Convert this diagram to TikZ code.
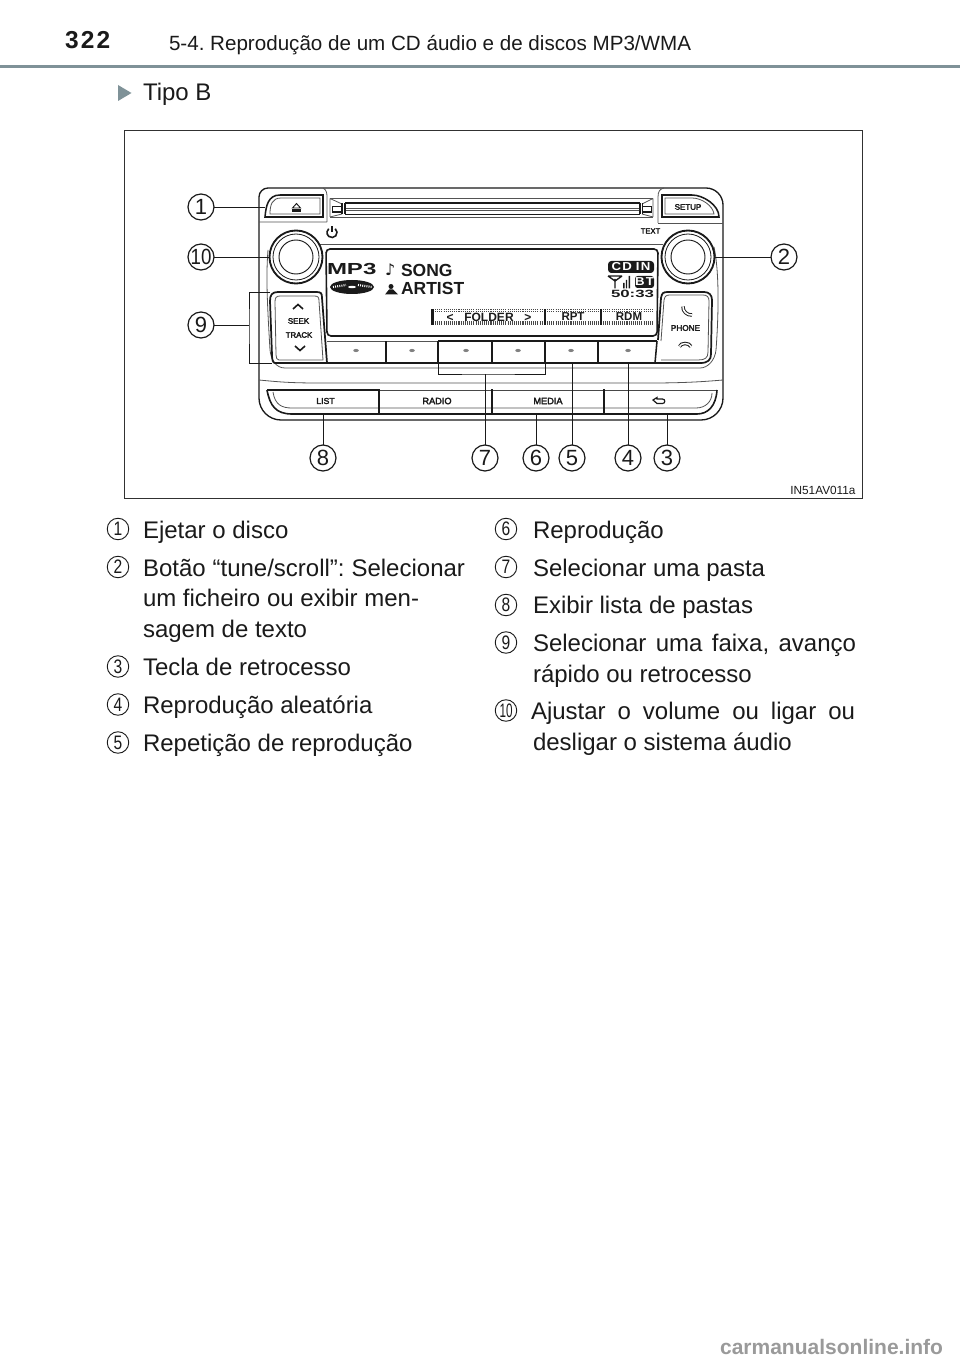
\documentclass[tikz,border=0pt]{standalone}
\usepackage{fontspec}
\setmainfont{Liberation Sans}
\newfontfamily\symfont{DejaVu Sans}
\newfontfamily\heavy[FakeBold=3]{Liberation Sans}
\frenchspacing
\newlength{\pxu}\setlength{\pxu}{0.75pt}
\definecolor{rulegray}{HTML}{7F9298}
\definecolor{wmgray}{HTML}{9A9A9A}
\definecolor{ink}{HTML}{1A1A1A}
\newcommand{\pxfont}[1]{\fontsize{#1\pxu}{#1\pxu}\selectfont}
\newcommand{\nar}[2]{\scalebox{#1}[1]{#2}}
\usetikzlibrary{shapes.geometric}
\tikzset{
  x=0.75pt,y=-0.75pt,
  every node/.style={inner sep=0,outer sep=0,text=ink},
  body/.style={anchor=base west,font=\pxfont{24}},
  callout/.style={circle,draw=ink,line width=0.9pt,minimum size=26\pxu,fill=white,font=\pxfont{22}},
  bullet/.style={circle,draw=ink,line width=0.7pt,minimum size=21.5\pxu,font=\pxfont{19.5}},
  leader/.style={draw=ink,line width=0.7pt},
  thickline/.style={draw=ink,line width=1.15pt},
  thinline/.style={draw=ink!75,line width=0.6pt},
  panelbtn/.style={font=\heavy\pxfont{#1}},
  panelbtn/.default=9,
  dispbig/.style={font=\bfseries\pxfont{17.5},anchor=base west},
  softtxt/.style={font=\bfseries\pxfont{11.5}},
  softdot/.style={ellipse,fill=ink!55,minimum width=5.5\pxu,minimum height=3.2\pxu},
  dotted rule/.style={draw=ink!80,line width=0.8pt,dash pattern=on 0.8pt off 0.8pt},
}
\begin{document}
\begin{tikzpicture}
\useasboundingbox[fill=white] (0,0) rectangle (960,1362);
% header
\node[anchor=base west,font=\bfseries\pxfont{24.5},text=ink] (pageno) at (65,49) {3\kern1.6pt 2\kern1.6pt 2};
\node[anchor=base west,font=\pxfont{20.6}] (runhead) at (169,51) {5-4. Reprodução de um CD áudio e de discos MP3/WMA};
\fill[rulegray] (0,65) rectangle (960,68.5);
\fill[rulegray] (118,85) -- (131.5,93) -- (118,101) -- cycle;
\node[anchor=base west,font=\pxfont{24}] (tipo) at (143,101) {Tipo B};
% frame
\draw[ink!90,line width=0.65pt] (124,130) rectangle (862,498);
\node[anchor=base east,font=\pxfont{11.8}] (code) at (855.5,494) {IN51AV011a};

% device outer
\draw[ink,line width=1pt] (259,211) -- (259,197) arc[start angle=180,end angle=270,radius=9] -- (323,188) -- (662,188) -- (706,188) arc[start angle=270,end angle=360,radius=17] -- (723,398) arc[start angle=0,end angle=90,radius=22] -- (281,420) arc[start angle=90,end angle=180,radius=22] -- cycle;
% eject surround
\draw[thinline] (323,188) .. controls (327,190) and (327,194) .. (327,198) -- (327,222) (259,222) -- (327,222);
\draw[thickline] (265,217) .. controls (266,206) and (268,195) .. (280,195) -- (323,195) -- (323,217) -- cycle;
\draw[thinline] (270,214) .. controls (270,205) and (272,198) .. (281,198) -- (320,198) -- (320,214) -- cycle;
\draw[ink,line width=0.7pt] (292.5,208) -- (296.5,203.5) -- (300.5,208) -- cycle;
\fill[ink] (292,209.5) rectangle (301,212);
% CD slot
\draw[thinline] (330,198.5) -- (653,198.5) (330,217) -- (653,217);
\draw[ink,line width=0.9pt] (345,203) -- (640,203) (345,214.5) -- (640,214.5);
\draw[thinline] (345,208) -- (640,208) (345,210.5) -- (640,210.5);
\draw[thinline] (330,198.5) -- (330,217) (653,198.5) -- (653,217) (330,198.5) -- (342,204) (330,217) -- (342,214) (653,198.5) -- (642,204) (653,217) -- (642,214);
\draw[ink,line width=0.9pt] (342,203.5) -- (342,214.5) (345,203) -- (345,214.5) (640,203) -- (640,214.5) (642.5,203.5) -- (642.5,214.5);
\draw[ink,line width=0.8pt] (332.5,206.5) rectangle (342,212);
\draw[ink,line width=0.8pt] (642.5,206.5) rectangle (651.5,212);
% setup surround
\draw[thinline] (658,223) -- (658,197) .. controls (658,191) and (660,189) .. (664,188);
\draw[thinline] (658,223) -- (723,223);
\draw[thickline] (662,195) -- (692,195) .. controls (703,195) and (719,205) .. (719,217) -- (662,217) -- cycle;
\draw[thinline] (665,198) -- (692,198) .. controls (702,198) and (713,206) .. (714,214) -- (665,214) -- cycle;
\node[panelbtn=8] (setup) at (688,207) {SETUP};
% power + TEXT
\draw[ink,line width=1.2pt] (335.2,228.7) arc[start angle=-50,end angle=230,radius=5];
\draw[ink,line width=1.2pt] (332,226.5) -- (332,232);
\node[panelbtn=7.6] (text) at (650.5,231) {TEXT};
% horizontal band above screen
\draw[thinline] (320,244) -- (663,244);
% knobs
\coordinate (kl) at (296,257);
\coordinate (kr) at (688,257);
\draw[thinline] (268,250) .. controls (266,275) and (267,300) .. (270,350) .. controls (271,360) and (276,368) .. (285,368) -- (700,368) .. controls (708,368) and (715,360) .. (716,350) .. controls (719,310) and (719,270) .. (714,247);
\foreach \k in {kl,kr}{
  \draw[ink,line width=1.4pt,fill=white] (\k) circle[radius=26.5];
  \draw[ink,line width=0.6pt] (\k) circle[radius=23];
  \draw[ink,line width=0.7pt] (\k) circle[radius=17];
}
% screen
\draw[ink,line width=1.2pt,rounded corners=3pt] (326,249) -- (658,249) -- (657,336) -- (327,336) -- cycle;
% screen content
\node[anchor=base west,font=\bfseries\pxfont{16},xscale=1.5] (mp3) at (327,275) {MP3};
\fill[ink] (352,287) ellipse[x radius=22,y radius=7];
\fill[white] (352,287) ellipse[x radius=4,y radius=1.2];
\draw[white,line width=1.6pt,dash pattern=on 0.7pt off 0.9pt] (333,287) -- (346,285);
\draw[white,line width=1.6pt,dash pattern=on 0.7pt off 0.9pt] (358,285) -- (372,287);
\node[anchor=base west,font=\symfont\pxfont{16}] (note) at (385,276) {♪};
\node[dispbig] (song) at (401,276.5) {SONG};
\fill[ink] (385,294.5) -- (389,289.5) -- (393,289.5) -- (398,294.5) -- cycle;
\fill[ink] (391,286.5) circle[radius=2.5];
\node[dispbig] (artist) at (401,294.5) {ARTIST};
% softkeys
\fill[ink] (431,309) rectangle (433.5,325);
\fill[ink] (544,309) rectangle (546,325);
\fill[ink] (600,309) rectangle (602,325);
\draw[dotted rule] (435,309.5) -- (543,309.5) (435,324) -- (543,324) (547,309.5) -- (599,309.5) (547,324) -- (599,324) (603,309.5) -- (654,309.5) (603,324) -- (654,324);
\draw[dotted rule] (435,311.5) -- (543,311.5) (435,322) -- (543,322) (547,311.5) -- (599,311.5) (547,322) -- (599,322) (603,311.5) -- (654,311.5) (603,322) -- (654,322);
\node[softtxt] (fld) at (489,317) {\fontsize{12\pxu}{12\pxu}\selectfont <\kern8pt FOLDER\kern8pt >};
\node[softtxt] (rpt) at (573,317) {RPT};
\node[softtxt] (rdm) at (629,317) {RDM};
% status
\fill[ink,rounded corners=2.5pt] (608,261) rectangle (654,273);
\node[font=\bfseries\pxfont{11.5},text=white,xscale=1.15] (cdin) at (631,267) {C\kern0.8pt D\kern2.5pt I\kern0.8pt N};
\draw[ink,line width=1pt] (615,288.5) -- (615,279) (608,276) -- (615,281) -- (622,276) (608,276) -- (622,276);
\fill[ink] (623,283) rectangle (624.5,288.5) (625.8,280) rectangle (627.2,288.5) (628.5,276) rectangle (630,288.5);
\fill[ink,rounded corners=2pt] (635,276) rectangle (654,288);
\node[font=\bfseries\pxfont{11.5},text=white,xscale=1.15] (bt) at (644.5,282) {B\kern0.8pt T};
\node[anchor=base east,font=\bfseries\pxfont{10.5},xscale=1.6] (clock) at (654,297.5) {50:33};
% seek button
\draw[ink,line width=1.3pt] (275,363) .. controls (273,363) and (272,360) .. (272,355) -- (270,301) .. controls (270,295) and (272,292) .. (278,292) -- (316,292) .. controls (321,292) and (322,293) .. (322,298) -- (327,363) -- cycle;
\draw[thinline] (279,360) .. controls (277,360) and (276,358) .. (276,355) -- (275,302) .. controls (275,298) and (276,296) .. (280,296) -- (314,296) .. controls (318,296) and (319,297) .. (319,301) -- (323,360) -- cycle;
\draw[ink,line width=1.2pt] (293,309) -- (298,304.5) -- (303,309);
\draw[ink,line width=1.2pt] (295,346) -- (300,350.5) -- (305,346);
\node[panelbtn=8] (seek) at (298.5,321) {SEEK};
\node[panelbtn=7.8] (track) at (299,335) {TRACK};
% softkey row
\draw[thinline] (327,341) -- (438,341);
\draw[thickline] (438,341) -- (657,341);
\draw[thickline] (327,363) -- (657,363);
\foreach \xx in {386,438,492,545,598}{\draw[thickline] (\xx,341) -- (\xx,363);}
\draw[thickline] (657,341) -- (655,363);
\foreach \xx in {356,412,466,518,571,628}{\node[softdot] at (\xx,350.5) {};}
% phone
\draw[ink,line width=1.3pt] (657,363) -- (700,363) .. controls (708,363) and (711,360) .. (711,354) -- (712,300) .. controls (712,295) and (709,292) .. (704,292) -- (668,292) .. controls (663,292) and (662,293) .. (661,298) -- (658,340);
\draw[thinline] (661,360) -- (698,360) .. controls (705,360) and (708,358) .. (708,352) -- (709,301) .. controls (709,297) and (707,295) .. (703,295) -- (670,295) .. controls (666,295) and (665,296) .. (664,300) -- (661,341);
\draw[ink,line width=2.6pt] (683,306.5) .. controls (682.5,311) and (687,315.5) .. (692,315);
\draw[white,line width=1.2pt] (683,306.5) .. controls (682.5,311) and (687,315.5) .. (692,315);
\node[panelbtn=8.2] (phone) at (685.5,328) {PHONE};
\draw[ink,line width=2.6pt] (679.5,346.5) .. controls (681,342.5) and (689,342.5) .. (691,346.5);
\draw[white,line width=1.1pt] (679.5,346.5) .. controls (681,342.5) and (689,342.5) .. (691,346.5);
% lower band
\draw[thinline] (259,380) .. controls (280,382) and (290,383) .. (320,383) -- (650,383) .. controls (680,383) and (700,382) .. (723,380);
% lower row
\draw[ink,line width=1.2pt] (267,390) -- (379,390);
\draw[ink!80,line width=0.7pt] (379,390) -- (716,390);
\draw[ink,line width=1.2pt] (267,390) .. controls (270,406) and (276,414) .. (292,414) -- (697,414) .. controls (708,414) and (716,406) .. (717,390);
\draw[thinline] (273,392) .. controls (275,405) and (282,408) .. (292,408) -- (696,408) .. controls (705,408) and (712,402) .. (712,393);
\foreach \xx in {379,492,604}{\draw[thickline] (\xx,389) -- (\xx,414);}
\node[panelbtn=8.6] (list) at (325.5,401) {LIST};
\node[panelbtn=9.2] (radio) at (437,401) {RADIO};
\node[panelbtn=9.2] (media) at (548,401) {MEDIA};
\draw[ink,line width=0.9pt] (653,400) -- (657,397.5) -- (657,399) -- (662.5,399) .. controls (665.5,399) and (665.5,403.5) .. (662.5,403.5) -- (657,403.5) -- (653,400) -- cycle;

% leader targets
\coordinate (t1) at (265,207);
\coordinate (t10) at (269,257);
\coordinate (t2) at (715,257);
\coordinate (b9t) at (270,292);
\coordinate (b9b) at (272,363);
\coordinate (b9m) at (249,325);
\coordinate (b7m) at (485,374);
\coordinate (b7l) at (438,363);
\coordinate (b7r) at (545,363);
\coordinate (t8) at (323,414);
\coordinate (t6) at (536,414);
\coordinate (t5) at (572,363);
\coordinate (t4) at (628,363);
\coordinate (t3) at (667,414);
% callouts
\node[callout] (c1) at (201,207) {1};
\node[callout] (c10) at (201,257) {\nar{0.85}{10}};
\node[callout] (c9) at (201,325) {9};
\node[callout] (c2) at (784,257) {2};
\node[callout] (c8) at (323,458) {8};
\node[callout] (c7) at (485,458) {7};
\node[callout] (c6) at (536,458) {6};
\node[callout] (c5) at (572,458) {5};
\node[callout] (c4) at (628,458) {4};
\node[callout] (c3) at (667,458) {3};
\draw[leader] (c1) -- (t1);
\draw[leader] (c10) -- (t10);
\draw[leader] (c2) -- (t2);
\draw[leader] (c9) -- (b9m);
\draw[leader] (b9t) -| (b9m) |- (b9b);
\draw[leader] (c8) -- (t8);
\draw[leader] (c7) -- (b7m);
\draw[leader] (b7l) |- (b7m) -| (b7r);
\draw[leader] (c6) -- (t6);
\draw[leader] (c5) -- (t5);
\draw[leader] (c4) -- (t4);
\draw[leader] (c3) -- (t3);

% legend left
\node[bullet] (l1) at (118,529) {\nar{0.8}{1}};
\node[bullet] (l2) at (118,567) {\nar{0.8}{2}};
\node[bullet] (l3) at (118,666.5) {\nar{0.8}{3}};
\node[bullet] (l4) at (118,704.5) {\nar{0.8}{4}};
\node[bullet] (l5) at (118,742.5) {\nar{0.8}{5}};
\node[body] (e1) at (143,538) {Ejetar o disco};
\node[body] (e2a) at (143,576) {\makebox[322\pxu][s]{Botão “tune/scroll”: Selecionar}};
\node[body] (e2b) at (143,606.5) {um ficheiro ou exibir men-};
\node[body] (e2c) at (143,637) {sagem de texto};
\node[body] (e3) at (143,675) {Tecla de retrocesso};
\node[body] (e4) at (143,713) {Reprodução aleatória};
\node[body] (e5) at (143,751) {Repetição de reprodução};
% legend right
\node[bullet] (l6) at (506,529) {\nar{0.8}{6}};
\node[bullet] (l7) at (506,567) {\nar{0.8}{7}};
\node[bullet] (l8) at (506,605) {\nar{0.8}{8}};
\node[bullet] (l9) at (506,642.5) {\nar{0.8}{9}};
\node[bullet] (l10) at (506,710.5) {\nar{0.6}{10}};
\node[body] (e6) at (533,538) {Reprodução};
\node[body] (e7) at (533,576) {Selecionar uma pasta};
\node[body] (e8) at (533,613) {Exibir lista de pastas};
\node[body] (e9a) at (533,651) {\makebox[323\pxu][s]{Selecionar uma faixa, avanço}};
\node[body] (e9b) at (533,682) {rápido ou retrocesso};
\node[body] (e10a) at (531,719) {\makebox[324\pxu][s]{Ajustar o volume ou ligar ou}};
\node[body] (e10b) at (533,750.5) {desligar o sistema áudio};
% watermark
\node[anchor=base east,font=\bfseries\pxfont{21},text=wmgray] (wm) at (943,1354) {carmanualsonline.info};
\end{tikzpicture}
\end{document}
